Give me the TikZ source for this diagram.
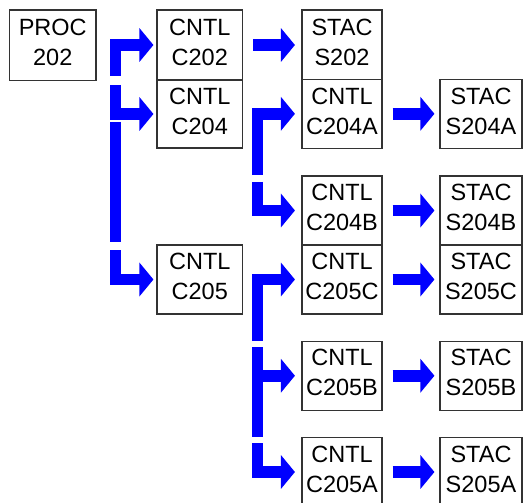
\documentclass[tikz,border=0pt]{standalone}
\usepackage{fontspec}
\setmainfont{Liberation Sans}
\usetikzlibrary{arrows.meta}
\definecolor{arrblue}{RGB}{0,0,255}
\begin{document}
\begin{tikzpicture}[x=1pt,y=-1pt,
  box/.style={draw=black!80, line width=1.1pt, fill=white, inner sep=0pt,
    align=center, font=\fontsize{23.5}{30}\selectfont, text depth=6pt},
  fat/.style={draw=arrblue, line width=11.5pt, line join=miter,
    -{Triangle[length=14pt,width=33pt]}},
  bar/.style={draw=arrblue, line width=11.5pt}]
\useasboundingbox (0,0) rectangle (523,503);
% boxes
\node[box, minimum width=86.5pt, minimum height=70.5pt] (proc) at (52.75,45.25) {PROC\\202};
\node[box, minimum width=85.5pt, minimum height=70pt] (c202) at (199.75,45) {CNTL\\C202};
\node[box, minimum width=85.5pt, minimum height=68pt] (c204) at (199.75,114) {CNTL\\C204};
\node[box, minimum width=85.5pt, minimum height=69pt] (c205) at (199.75,279.5) {CNTL\\C205};
\node[box, minimum width=80pt, minimum height=70pt] (s202) at (342,45) {STAC\\S202};
\node[box, minimum width=80pt, minimum height=69pt] (c204a) at (342,113.8) {CNTL\\C204A};
\node[box, minimum width=80pt, minimum height=69pt] (c204b) at (342,210.5) {CNTL\\C204B};
\node[box, minimum width=80pt, minimum height=69pt] (c205c) at (342,279.5) {CNTL\\C205C};
\node[box, minimum width=80pt, minimum height=69pt] (c205b) at (342,375.75) {CNTL\\C205B};
\node[box, minimum width=80pt, minimum height=69pt] (c205a) at (342,472) {CNTL\\C205A};
\node[box, minimum width=82pt, minimum height=69pt] (s204a) at (481,113.8) {STAC\\S204A};
\node[box, minimum width=82pt, minimum height=69pt] (s204b) at (481,210.5) {STAC\\S204B};
\node[box, minimum width=82pt, minimum height=69pt] (s205c) at (481,279.5) {STAC\\S205C};
\node[box, minimum width=82pt, minimum height=69pt] (s205b) at (481,375.75) {STAC\\S205B};
\node[box, minimum width=82pt, minimum height=69pt] (s205a) at (481,472) {STAC\\S205A};
% trunk coordinates
\coordinate (ta) at (115.5,76);
\coordinate (tb) at (115.5,85);
\coordinate (tc1) at (115.5,122);
\coordinate (tc2) at (115.5,242);
\coordinate (td) at (115.5,250);
\coordinate (te) at (257.5,175);
\coordinate (tf) at (257.5,182);
\coordinate (tg) at (257.5,341);
\coordinate (th1) at (257.5,347);
\coordinate (th2) at (257.5,437);
\coordinate (thb) at (252,375.75);
\coordinate (ti) at (257.5,443);
% elbow connectors
\draw[fat, shorten >=3pt] (ta) |- (c202.west);
\draw[fat, shorten >=3pt] (tb) |- (c204.west);
\draw[bar] (tc1) -- (tc2);
\draw[fat, shorten >=3pt] (td) |- (c205.west);
\draw[fat, shorten >=6.5pt] (te) |- (c204a.west);
\draw[fat, shorten >=6.5pt] (tf) |- (c204b.west);
\draw[fat, shorten >=6.5pt] (tg) |- (c205c.west);
\draw[bar] (th1) -- (th2);
\draw[fat, shorten >=6.5pt] (thb) -- (c205b.west);
\draw[fat, shorten >=6.5pt] (ti) |- (c205a.west);
% straight arrows
\draw[fat, shorten <=10pt, shorten >=6.5pt] (c202.east) -- (s202.west);
\draw[fat, shorten <=10pt, shorten >=5pt] (c204a.east) -- (s204a.west);
\draw[fat, shorten <=10pt, shorten >=5pt] (c204b.east) -- (s204b.west);
\draw[fat, shorten <=10pt, shorten >=5pt] (c205c.east) -- (s205c.west);
\draw[fat, shorten <=10pt, shorten >=5pt] (c205b.east) -- (s205b.west);
\draw[fat, shorten <=10pt, shorten >=5pt] (c205a.east) -- (s205a.west);
\end{tikzpicture}
\end{document}
